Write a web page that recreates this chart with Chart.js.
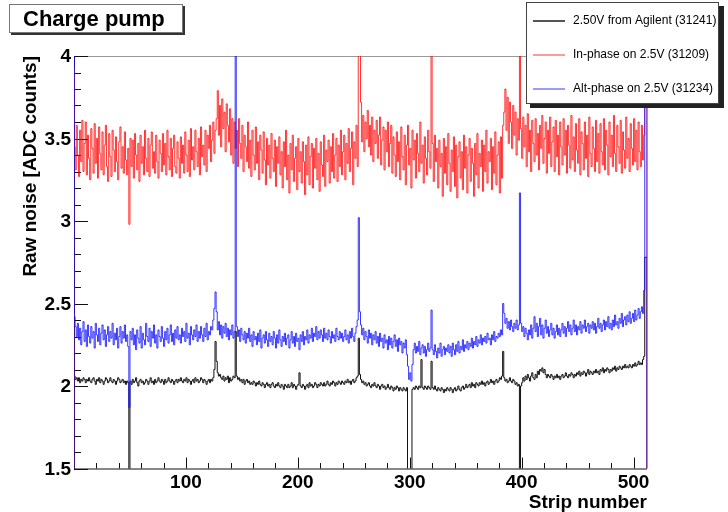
<!DOCTYPE html>
<html>
<head>
<meta charset="utf-8">
<script src="https://cdn.jsdelivr.net/npm/chart.js@4.4.1/dist/chart.umd.min.js"></script>
<style>
  html, body { margin: 0; padding: 0; background: #fff; }
  canvas { display: block; }
</style>
</head>
<body>
<canvas id="chart" width="728" height="512"></canvas>
<script>
// ---------- DATA ----------
const chartTitle = "Charge pump";
const xTitle = "Strip number";
const yTitle = "Raw noise [ADC counts]";
const seriesLabels = ["2.50V from Agilent (31241)", "In-phase on 2.5V (31209)", "Alt-phase on 2.5V (31234)"];
const xTickLabels = [100, 200, 300, 400, 500];
const yTickLabels = ["1.5", "2", "2.5", "3", "3.5", "4"];

// raw noise per strip, strips 0..511
const agilent = [
  2.11, 2.06, 2.04, 2.05, 2.03, 2.05, 2.02, 2.04, 2.03, 2.05, 2.04, 2.02, 2.04, 2.03, 2.05, 2.03,
  2.02, 2.04, 2.05, 2.03, 2.01, 2.04, 2.03, 2.05, 2.02, 2.04, 2.03, 2.01, 2.03, 2.05, 2.04, 2.02,
  2.03, 2.05, 2.03, 2.02, 2.04, 2.03, 2.01, 2.03, 2.05, 2.04, 2.02, 2.03, 2.04, 2.02, 2.03, 2.01,
  2.03, 2.02, 1.30, 2.03, 2.01, 2.04, 2.02, 2.03, 2.05, 2.02, 2.00, 2.03, 2.04, 2.02, 2.03, 2.01,
  2.02, 2.04, 2.03, 2.01, 2.03, 2.05, 2.02, 2.03, 2.01, 2.04, 2.02, 2.03, 2.05, 2.03, 2.02, 2.04,
  2.03, 2.01, 2.04, 2.02, 2.03, 2.05, 2.03, 2.02, 2.04, 2.03, 2.01, 2.03, 2.04, 2.02, 2.04, 2.03,
  2.05, 2.03, 2.02, 2.04, 2.03, 2.05, 2.02, 2.04, 2.03, 2.01, 2.03, 2.04, 2.02, 2.05, 2.03, 2.04,
  2.02, 2.03, 2.05, 2.04, 2.02, 2.04, 2.03, 2.01, 2.03, 2.04, 2.02, 2.04, 2.03, 2.05, 2.10, 2.27,
  2.15, 2.08, 2.06, 2.07, 2.05, 2.04, 2.06, 2.03, 2.05, 2.04, 2.06, 2.02, 2.05, 2.03, 2.04, 2.06,
  2.05, 2.33, 2.06, 2.04, 2.05, 2.03, 2.04, 2.02, 2.04, 2.01, 2.03, 2.04, 2.02, 2.03, 2.01, 2.02,
  2.01, 2.03, 2.02, 2.00, 2.02, 2.01, 2.03, 2.01, 2.00, 2.02, 2.01, 1.99, 2.01, 2.02, 2.00, 2.01,
  1.99, 2.01, 2.02, 2.00, 1.99, 2.01, 2.00, 2.02, 2.00, 1.99, 2.01, 2.00, 1.98, 2.01, 2.00, 1.99,
  2.01, 1.99, 2.00, 2.02, 1.99, 2.01, 2.00, 1.98, 2.00, 2.01, 2.08, 2.00, 1.99, 2.01, 2.00, 1.98,
  2.00, 2.01, 1.99, 2.02, 2.00, 2.01, 1.99, 2.00, 2.02, 2.01, 1.99, 2.01, 2.00, 2.02, 2.01, 2.00,
  2.02, 2.00, 2.01, 2.03, 2.01, 2.00, 2.02, 2.01, 2.03, 2.02, 2.00, 2.02, 2.01, 2.03, 2.02, 2.01,
  2.03, 2.02, 2.01, 2.03, 2.02, 2.04, 2.02, 2.03, 2.01, 2.03, 2.04, 2.02, 2.03, 2.05, 2.06, 2.29,
  2.07, 2.04, 2.02, 2.03, 2.01, 2.02, 2.00, 2.01, 2.02, 2.00, 1.99, 2.01, 2.00, 2.02, 2.00, 1.99,
  2.01, 2.00, 1.98, 2.00, 2.01, 1.99, 2.00, 1.98, 1.99, 2.01, 1.99, 1.98, 2.00, 1.99, 1.97, 1.99,
  1.98, 2.00, 1.99, 1.97, 1.99, 1.98, 1.97, 1.99, 1.98, 1.97, 1.99, 1.30, 1.30, 1.30, 1.30, 1.98,
  1.99, 1.98, 2.00, 1.99, 1.98, 2.00, 1.99, 2.16, 1.99, 1.98, 2.00, 1.99, 1.98, 2.00, 1.99, 1.98,
  2.15, 1.99, 1.98, 2.00, 1.98, 1.97, 1.99, 1.98, 1.97, 1.99, 1.98, 1.96, 1.98, 1.97, 1.99, 1.98,
  1.97, 1.99, 1.98, 1.96, 1.98, 1.99, 1.97, 1.98, 2.00, 1.98, 1.97, 1.99, 2.00, 1.98, 1.99, 2.01,
  1.99, 2.00, 2.01, 1.99, 2.02, 2.00, 2.01, 1.99, 2.02, 2.01, 2.00, 2.02, 2.01, 2.03, 2.01, 2.02,
  2.00, 2.02, 2.03, 2.01, 2.02, 2.04, 2.02, 2.03, 2.01, 2.03, 2.04, 2.02, 2.03, 2.05, 2.04, 2.06,
  2.21, 2.05, 2.03, 2.04, 2.02, 2.03, 2.05, 2.03, 2.02, 2.04, 2.03, 2.01, 2.02, 2.00, 2.01, 1.30,
  2.00, 2.02, 2.05, 2.03, 2.06, 2.04, 2.07, 2.05, 2.03, 2.06, 2.08, 2.05, 2.04, 2.07, 2.05, 2.09,
  2.07, 2.10, 2.09, 2.11, 2.08, 2.10, 2.07, 2.05, 2.07, 2.06, 2.05, 2.07, 2.06, 2.04, 2.06, 2.05,
  2.07, 2.05, 2.06, 2.04, 2.06, 2.07, 2.05, 2.06, 2.08, 2.06, 2.05, 2.07, 2.06, 2.08, 2.07, 2.05,
  2.07, 2.06, 2.08, 2.07, 2.09, 2.06, 2.08, 2.07, 2.09, 2.08, 2.06, 2.08, 2.10, 2.07, 2.09, 2.08,
  2.07, 2.09, 2.08, 2.10, 2.08, 2.09, 2.07, 2.10, 2.09, 2.11, 2.08, 2.10, 2.09, 2.11, 2.10, 2.08,
  2.10, 2.09, 2.11, 2.10, 2.12, 2.09, 2.11, 2.10, 2.12, 2.11, 2.10, 2.12, 2.11, 2.13, 2.11, 2.12,
  2.11, 2.13, 2.12, 2.11, 2.13, 2.12, 2.14, 2.12, 2.13, 2.15, 2.13, 2.14, 2.13, 2.16, 2.18, 2.78
];

const inPhase = [
  3.93, 3.45, 3.31, 3.58, 3.40, 3.27, 3.55, 3.36, 3.61, 3.30, 3.47, 3.60, 3.28, 3.52, 3.38, 3.25,
  3.56, 3.44, 3.29, 3.59, 3.35, 3.50, 3.26, 3.57, 3.41, 3.31, 3.54, 3.28, 3.46, 3.58, 3.33, 3.24,
  3.53, 3.39, 3.27, 3.55, 3.43, 3.30, 3.51, 3.36, 3.25, 3.48, 3.57, 3.32, 3.45, 3.29, 3.54, 3.37,
  3.28, 3.44, 2.98, 3.50, 3.33, 3.49, 3.26, 3.53, 3.40, 3.31, 3.47, 3.24, 3.52, 3.35, 3.45, 3.28,
  3.55, 3.38, 3.30, 3.50, 3.27, 3.46, 3.54, 3.32, 3.42, 3.29, 3.52, 3.36, 3.26, 3.49, 3.41, 3.30,
  3.53, 3.34, 3.47, 3.28, 3.55, 3.39, 3.31, 3.50, 3.27, 3.44, 3.52, 3.33, 3.29, 3.48, 3.38, 3.26,
  3.51, 3.35, 3.46, 3.29, 3.54, 3.40, 3.30, 3.49, 3.27, 3.56, 3.37, 3.45, 3.31, 3.55, 3.42, 3.33,
  3.50, 3.28, 3.57, 3.39, 3.46, 3.34, 3.55, 3.30, 3.52, 3.44, 3.58, 3.36, 3.49, 3.60, 3.41, 3.55,
  3.62, 3.79, 3.52, 3.70, 3.45, 3.74, 3.56, 3.66, 3.42, 3.71, 3.58, 3.48, 3.68, 3.40, 3.62, 3.35,
  3.60, 3.44, 3.55, 3.33, 3.62, 3.47, 3.38, 3.58, 3.30, 3.52, 3.45, 3.36, 3.60, 3.32, 3.49, 3.27,
  3.55, 3.40, 3.31, 3.57, 3.35, 3.48, 3.25, 3.52, 3.43, 3.29, 3.54, 3.37, 3.22, 3.50, 3.34, 3.46,
  3.26, 3.53, 3.38, 3.30, 3.49, 3.21, 3.45, 3.35, 3.51, 3.28, 3.42, 3.20, 3.48, 3.33, 3.55, 3.25,
  3.40, 3.17, 3.47, 3.31, 3.52, 3.24, 3.38, 3.45, 3.19, 3.50, 3.30, 3.42, 3.23, 3.48, 3.36, 3.16,
  3.46, 3.28, 3.51, 3.22, 3.39, 3.47, 3.20, 3.44, 3.32, 3.50, 3.25, 3.41, 3.18, 3.48, 3.34, 3.27,
  3.52, 3.21, 3.43, 3.36, 3.49, 3.23, 3.45, 3.30, 3.53, 3.26, 3.40, 3.50, 3.24, 3.46, 3.33, 3.55,
  3.28, 3.42, 3.52, 3.25, 3.47, 3.35, 3.56, 3.30, 3.44, 3.54, 3.22, 3.48, 3.38, 3.58, 3.33, 4.30,
  4.30, 3.72, 3.48, 3.64, 3.42, 3.60, 3.50, 3.67, 3.45, 3.58, 3.40, 3.63, 3.36, 3.55, 3.47, 3.61,
  3.38, 3.52, 3.63, 3.34, 3.49, 3.57, 3.31, 3.55, 3.42, 3.60, 3.33, 3.47, 3.58, 3.29, 3.51, 3.40,
  3.27, 3.54, 3.36, 3.48, 3.25, 3.57, 3.39, 3.31, 3.52, 3.22, 3.46, 3.58, 3.34, 3.44, 3.20, 3.55,
  3.37, 3.49, 3.26, 3.53, 3.41, 3.30, 3.60, 3.35, 3.46, 3.23, 3.51, 3.38, 3.28, 3.55, 3.42, 3.32,
  4.30, 3.47, 3.24, 3.52, 3.36, 3.44, 3.20, 3.49, 3.33, 3.41, 3.15, 3.50, 3.29, 3.45, 3.22, 3.53,
  3.35, 3.18, 3.43, 3.30, 3.51, 3.21, 3.46, 3.14, 3.39, 3.48, 3.26, 3.42, 3.19, 3.52, 3.32, 3.45,
  3.17, 3.40, 3.50, 3.24, 3.44, 3.35, 3.15, 3.47, 3.28, 3.53, 3.20, 3.41, 3.33, 3.49, 3.18, 3.46,
  3.30, 3.55, 3.23, 3.42, 3.36, 3.50, 3.19, 3.45, 3.29, 3.54, 3.22, 3.40, 3.48, 3.17, 3.51, 3.26,
  3.58, 3.66, 3.80, 3.55, 3.75, 3.47, 3.72, 3.60, 3.44, 3.70, 3.52, 3.66, 3.40, 3.62, 3.49, 4.30,
  3.56, 3.38, 3.63, 3.45, 3.58, 3.33, 3.65, 3.42, 3.55, 3.30, 3.61, 3.47, 3.36, 3.62, 3.40, 3.53,
  3.31, 3.58, 3.44, 3.64, 3.35, 3.50, 3.60, 3.29, 3.55, 3.41, 3.63, 3.33, 3.48, 3.57, 3.30, 3.61,
  3.39, 3.52, 3.28, 3.60, 3.45, 3.34, 3.62, 3.40, 3.55, 3.29, 3.58, 3.46, 3.32, 3.64, 3.37, 3.51,
  3.30, 3.59, 3.43, 3.35, 3.62, 3.28, 3.54, 3.47, 3.31, 3.60, 3.38, 3.52, 3.27, 3.63, 3.41, 3.33,
  3.57, 3.44, 3.30, 3.61, 3.36, 3.53, 3.29, 3.59, 3.42, 3.34, 3.62, 3.31, 3.55, 3.46, 3.28, 3.60,
  3.39, 3.52, 3.33, 3.64, 3.41, 3.30, 3.58, 3.45, 3.35, 3.61, 3.29, 3.54, 3.43, 3.32, 3.63, 3.38,
  3.50, 3.30, 3.59, 3.44, 3.34, 3.62, 3.36, 3.55, 3.31, 3.60, 3.42, 3.33, 3.58, 3.37, 3.52, 4.30
];

const altPhase = [
  4.30, 2.42, 2.36, 2.30, 2.38, 2.28, 2.35, 2.25, 2.33, 2.39, 2.27, 2.34, 2.24, 2.37, 2.30, 2.26,
  2.36, 2.29, 2.33, 2.23, 2.38, 2.31, 2.27, 2.35, 2.25, 2.32, 2.37, 2.28, 2.34, 2.24, 2.31, 2.36,
  2.27, 2.33, 2.29, 2.38, 2.25, 2.32, 2.28, 2.35, 2.23, 2.30, 2.36, 2.26, 2.33, 2.29, 2.37, 2.27,
  2.31, 2.24, 1.87, 2.33, 2.28, 2.35, 2.25, 2.31, 2.22, 2.34, 2.29, 2.26, 2.36, 2.23, 2.32, 2.28,
  2.25, 2.38, 2.30, 2.27, 2.35, 2.24, 2.33, 2.29, 2.37, 2.26, 2.31, 2.23, 2.34, 2.30, 2.27, 2.36,
  2.29, 2.24, 2.33, 2.28, 2.35, 2.26, 2.31, 2.37, 2.27, 2.32, 2.25, 2.34, 2.29, 2.36, 2.28, 2.31,
  2.26, 2.35, 2.30, 2.33, 2.27, 2.38, 2.29, 2.32, 2.25, 2.36, 2.31, 2.28, 2.34, 2.30, 2.37, 2.27,
  2.33, 2.29, 2.36, 2.31, 2.27, 2.35, 2.30, 2.38, 2.28, 2.33, 2.31, 2.36, 2.34, 2.40, 2.47, 2.57,
  2.45, 2.34, 2.39, 2.31, 2.37, 2.29, 2.36, 2.32, 2.38, 2.30, 2.35, 2.28, 2.34, 2.31, 2.37, 2.29,
  2.33, 4.30, 2.36, 2.30, 2.34, 2.27, 2.35, 2.31, 2.28, 2.33, 2.26, 2.32, 2.29, 2.35, 2.27, 2.31,
  2.24, 2.33, 2.28, 2.30, 2.25, 2.32, 2.27, 2.34, 2.23, 2.29, 2.31, 2.26, 2.33, 2.28, 2.24, 2.32,
  2.27, 2.30, 2.25, 2.33, 2.29, 2.23, 2.31, 2.26, 2.34, 2.28, 2.24, 2.30, 2.27, 2.32, 2.25, 2.29,
  2.31, 2.23, 2.28, 2.33, 2.26, 2.30, 2.24, 2.32, 2.27, 2.29, 2.22, 2.31, 2.27, 2.33, 2.25, 2.30,
  2.28, 2.34, 2.26, 2.31, 2.29, 2.35, 2.27, 2.32, 2.30, 2.36, 2.28, 2.33, 2.29, 2.34, 2.31, 2.27,
  2.35, 2.29, 2.32, 2.28, 2.34, 2.30, 2.26, 2.33, 2.29, 2.31, 2.27, 2.35, 2.30, 2.28, 2.33, 2.29,
  2.32, 2.27, 2.30, 2.34, 2.28, 2.31, 2.26, 2.33, 2.29, 2.35, 2.30, 2.27, 2.32, 2.36, 2.40, 3.02,
  2.45, 2.37, 2.31, 2.35, 2.28, 2.33, 2.30, 2.26, 2.34, 2.29, 2.32, 2.25, 2.31, 2.28, 2.33, 2.26,
  2.30, 2.24, 2.32, 2.27, 2.29, 2.23, 2.31, 2.26, 2.28, 2.22, 2.30, 2.25, 2.29, 2.23, 2.27, 2.31,
  2.24, 2.28, 2.21, 2.29, 2.25, 2.27, 2.20, 2.26, 2.23, 2.28, 2.19, 2.12, 2.04, 2.08, 2.03, 2.13,
  2.22, 2.26, 2.20, 2.24, 2.21, 2.27, 2.19, 2.23, 2.25, 2.20, 2.24, 2.18, 2.22, 2.26, 2.21, 2.23,
  2.46, 2.22, 2.19, 2.25, 2.21, 2.17, 2.23, 2.20, 2.26, 2.18, 2.22, 2.24, 2.19, 2.23, 2.21, 2.25,
  2.20, 2.24, 2.18, 2.26, 2.22, 2.19, 2.25, 2.21, 2.27, 2.20, 2.24, 2.22, 2.28, 2.21, 2.25, 2.23,
  2.27, 2.22, 2.26, 2.24, 2.29, 2.23, 2.27, 2.25, 2.30, 2.24, 2.28, 2.26, 2.31, 2.25, 2.29, 2.27,
  2.30, 2.26, 2.32, 2.28, 2.29, 2.25, 2.31, 2.28, 2.33, 2.27, 2.30, 2.29, 2.32, 2.30, 2.34, 2.31,
  2.50, 2.44, 2.38, 2.41, 2.35, 2.39, 2.34, 2.40, 2.36, 2.33, 2.38, 2.35, 2.40, 2.34, 2.37, 3.17,
  2.38, 2.33, 2.36, 2.30, 2.35, 2.32, 2.28, 2.34, 2.31, 2.37, 2.29, 2.35, 2.42, 2.33, 2.38, 2.30,
  2.36, 2.41, 2.31, 2.37, 2.29, 2.35, 2.40, 2.32, 2.36, 2.30, 2.34, 2.38, 2.31, 2.35, 2.29, 2.33,
  2.37, 2.31, 2.35, 2.30, 2.34, 2.38, 2.32, 2.36, 2.30, 2.35, 2.39, 2.33, 2.37, 2.31, 2.35, 2.40,
  2.33, 2.37, 2.31, 2.36, 2.34, 2.39, 2.32, 2.37, 2.35, 2.40, 2.33, 2.36, 2.38, 2.32, 2.37, 2.35,
  2.39, 2.34, 2.38, 2.32, 2.36, 2.41, 2.35, 2.38, 2.33, 2.37, 2.40, 2.34, 2.39, 2.36, 2.42, 2.35,
  2.38, 2.34, 2.40, 2.36, 2.43, 2.37, 2.39, 2.35, 2.41, 2.38, 2.44, 2.36, 2.40, 2.42, 2.37, 2.43,
  2.39, 2.45, 2.38, 2.41, 2.44, 2.39, 2.46, 2.40, 2.43, 2.47, 2.41, 2.45, 2.48, 2.44, 2.58, 4.30
];

// ---------- HELPERS ----------
const FONT = '"Liberation Sans", Arial, Helvetica, sans-serif';

// histogram outline: rise from below the frame, one step per strip, drop at the end
function histPoints(values) {
  const pts = [{ x: 0, y: 0 }];
  values.forEach((v, i) => pts.push({ x: i, y: v }));
  pts.push({ x: values.length, y: values[values.length - 1] });
  pts.push({ x: values.length, y: 0 });
  return pts;
}

// ---------- FRAME / AXES (ROOT look) ----------
const rootFrame = {
  id: "rootFrame",
  beforeDatasetsDraw(chart) {
    const { ctx, chartArea: a, scales: { x, y } } = chart;
    ctx.save();
    ctx.lineWidth = 1;

    // top + right frame
    ctx.strokeStyle = "#999";
    ctx.beginPath();
    ctx.moveTo(a.left, a.top + 0.5);
    ctx.lineTo(a.right + 0.5, a.top + 0.5);
    ctx.lineTo(a.right + 0.5, a.bottom);
    ctx.stroke();

    // axes
    ctx.strokeStyle = "#111";
    ctx.beginPath();
    ctx.moveTo(a.left + 0.5, a.top);
    ctx.lineTo(a.left + 0.5, a.bottom + 0.5);
    ctx.lineTo(a.right, a.bottom + 0.5);
    ctx.stroke();

    // x ticks every 20 strips, long ones every 100
    ctx.beginPath();
    for (let s = 20; s < 512; s += 20) {
      const px = Math.round(x.getPixelForValue(s)) + 0.5;
      const len = s % 100 === 0 ? 11 : 5.5;
      ctx.moveTo(px, a.bottom);
      ctx.lineTo(px, a.bottom - len);
    }
    // y ticks every 0.1, long ones every 0.5
    for (let k = 15; k <= 40; k++) {
      const py = Math.round(y.getPixelForValue(k / 10)) + 0.5;
      const len = k % 5 === 0 ? 14 : 7;
      ctx.moveTo(a.left, py);
      ctx.lineTo(a.left + len, py);
    }
    ctx.stroke();

    // tick labels
    ctx.fillStyle = "#000";
    ctx.font = "bold 19px " + FONT;
    ctx.textAlign = "center";
    ctx.textBaseline = "middle";
    xTickLabels.forEach(v => ctx.fillText(String(v), x.getPixelForValue(v), 483));
    ctx.textAlign = "right";
    yTickLabels.forEach(v => ctx.fillText(v, a.left - 3, y.getPixelForValue(parseFloat(v)) + 1));

    // axis titles, right aligned like ROOT
    ctx.textBaseline = "alphabetic";
    ctx.fillText(xTitle, a.right, 508);
    ctx.translate(36, a.top);
    ctx.rotate(-Math.PI / 2);
    ctx.fillText(yTitle, 0, 0);
    ctx.restore();
  },
  afterDraw(chart) {
    const { ctx } = chart;
    ctx.save();

    // title box
    ctx.fillStyle = "#333";
    ctx.fillRect(11, 6, 174, 29);
    ctx.fillStyle = "#fff";
    ctx.fillRect(9, 4, 174, 29);
    ctx.strokeStyle = "#777";
    ctx.lineWidth = 1;
    ctx.strokeRect(9.5, 4.5, 173, 28);
    ctx.fillStyle = "#000";
    ctx.font = "bold 22px " + FONT;
    ctx.textBaseline = "middle";
    ctx.textAlign = "left";
    ctx.fillText(chartTitle, 23, 20);

    // legend box
    ctx.fillStyle = "#222";
    ctx.fillRect(530, 6, 194, 102);
    ctx.fillStyle = "#fff";
    ctx.fillRect(526, 2, 193, 102);
    ctx.strokeStyle = "#444";
    ctx.strokeRect(526.5, 2.5, 192, 101);

    const legendLine = ["#555", "#ff9a9a", "#9a9aff"];
    const rows = [21, 55, 89];
    ctx.font = "12px " + FONT;
    chart.data.datasets.forEach((ds, i) => {
      ctx.strokeStyle = legendLine[i];
      ctx.lineWidth = 2;
      ctx.beginPath();
      ctx.moveTo(533, rows[i]);
      ctx.lineTo(565, rows[i]);
      ctx.stroke();
      ctx.fillStyle = "#000";
      ctx.fillText(ds.label, 573, rows[i]);
    });
    ctx.restore();
  }
};

// ---------- CHART ----------
new Chart(document.getElementById("chart"), {
  type: "line",
  data: {
    datasets: [
      { label: seriesLabels[0], data: histPoints(agilent), borderColor: "#111", order: 3, stepped: "after" },
      { label: seriesLabels[1], data: histPoints(inPhase), borderColor: "rgba(255,0,0,0.8)", order: 2, stepped: "after" },
      { label: seriesLabels[2], data: histPoints(altPhase), borderColor: "rgba(20,20,255,0.85)", order: 1, stepped: "after" }
    ]
  },
  options: {
    responsive: false,
    animation: false,
    layout: { padding: { left: 74, right: 81, top: 56, bottom: 43.5 } },
    elements: { line: { borderWidth: 1, tension: 0 }, point: { radius: 0 } },
    scales: {
      x: { type: "linear", min: 0, max: 512, display: false },
      y: { type: "linear", min: 1.5, max: 4, display: false }
    },
    plugins: { legend: { display: false }, tooltip: { enabled: false } }
  },
  plugins: [rootFrame]
});
</script>
</body>
</html>
